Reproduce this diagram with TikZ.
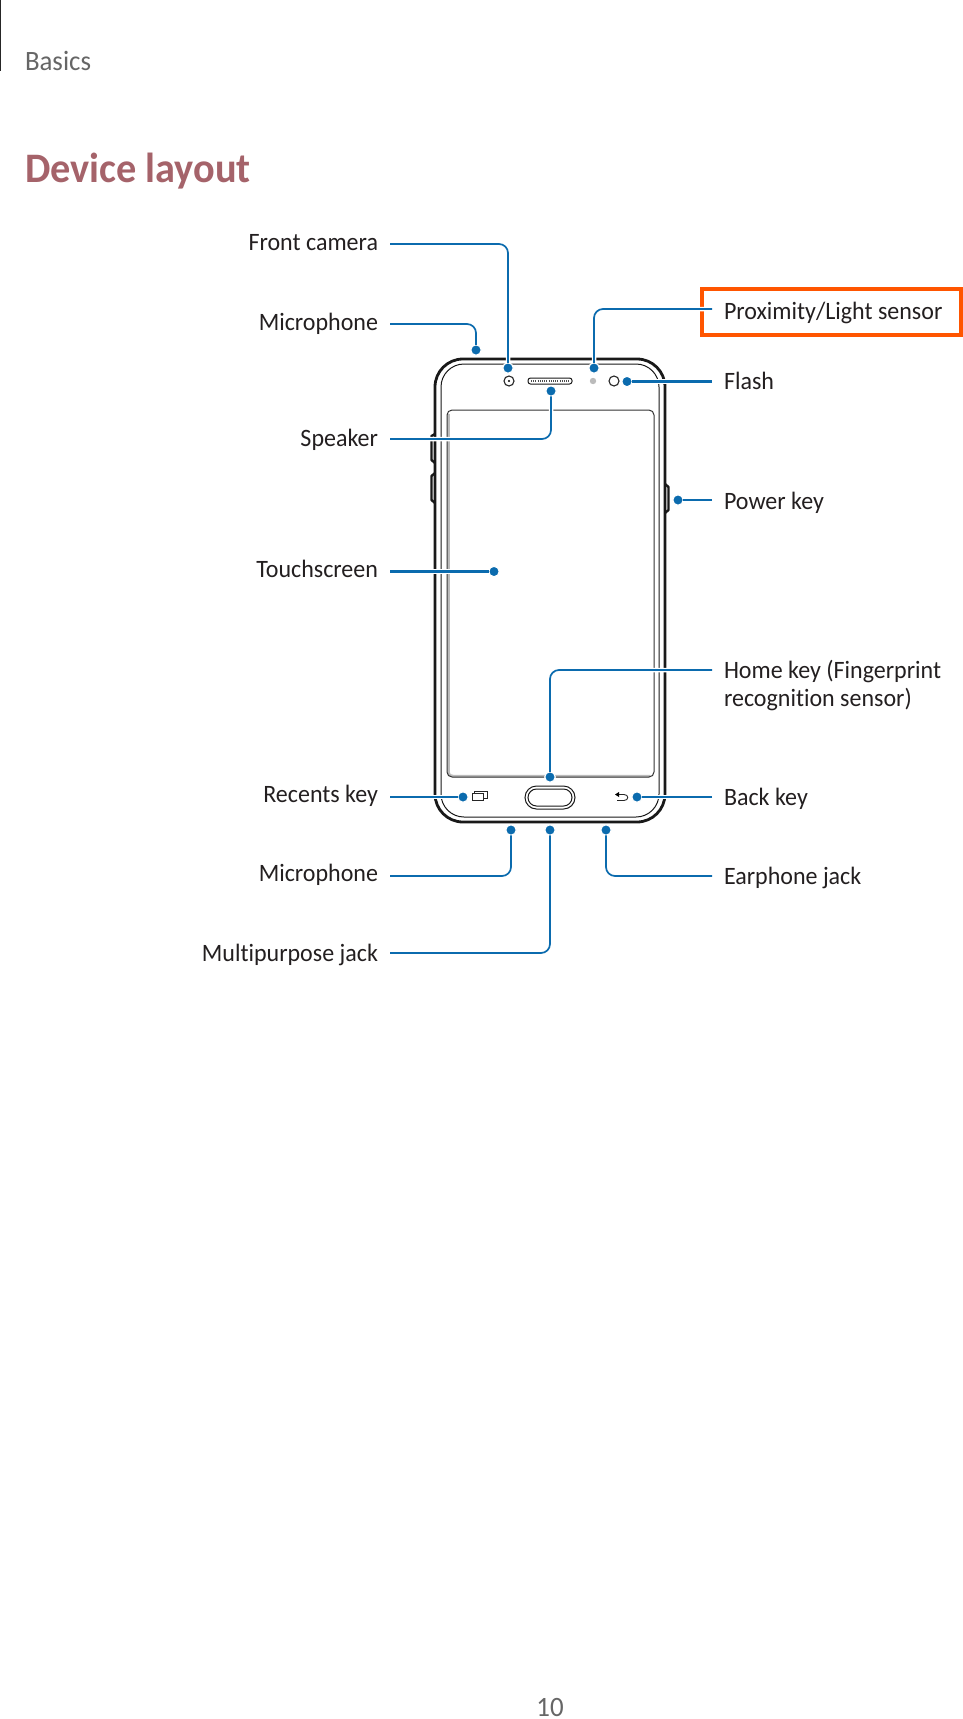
\documentclass[tikz,border=0pt]{standalone}
\usepackage{fontspec}
\setmainfont{Carlito}[FakeStretch=0.96,Ligatures=NoCommon]
\definecolor{leadblue}{HTML}{0B6BAE}
\definecolor{txt}{HTML}{231F20}
\definecolor{hdr}{HTML}{666666}
\definecolor{ttl}{HTML}{A5636A}
\definecolor{hl}{HTML}{FF5500}
\definecolor{greyband}{HTML}{BBBBBB}
\tikzset{
  lbl/.style={inner sep=0pt,outer sep=0pt,text=txt,font=\fontsize{25}{30}\selectfont},
  lleft/.style={lbl,anchor=base east},
  lright/.style={lbl,anchor=base west},
  pin/.style={circle,fill=leadblue,draw=white,line width=1.2pt,minimum size=10.5pt,inner sep=0pt,outer sep=0pt},
  lead/.style={draw=leadblue,line width=1.7pt,rounded corners=9pt,preaction={draw=white,line width=4.5pt}},
  heavylead/.style={lead,line width=2.5pt},
  bodyline/.style={draw=black!90,line width=2.8pt},
  fineline/.style={draw=black!90,line width=1pt},
  iconline/.style={draw=black!85,line width=0.9pt},
}
\begin{document}
\begin{tikzpicture}[x=1pt,y=-1pt]
\useasboundingbox (0,0) rectangle (963,1719);
% header
\draw[black!85,line width=1.4pt] (0.7,0) -- (0.7,71);
\node[lbl,anchor=base west,text=hdr,font=\fontsize{28}{34}\selectfont] (hd) at (25,70) {Basics};
\node[lbl,anchor=base west,text=ttl,font=\fontsize{42}{50}\selectfont\bfseries] (ti) at (25,182) {Device layout};
\node[lbl,anchor=base,text=hdr,font=\fontsize{28}{34}\selectfont] (pg) at (550,1716.5) {10};
% phone
\draw[bodyline,fill=white,rounded corners=28pt] (435,359) rectangle (665,822);
\draw[fineline,rounded corners=23pt] (441,364) rectangle (659,817);
\draw[draw=greyband,line width=2.5pt] (448.5,414) -- (448.5,772) .. controls (448.5,775) and (450,776) .. (453,776) -- (650,776);
\draw[fineline,draw=black!80,rounded corners=5pt] (447,410) rectangle (654,777);
\draw[bodyline,line width=2.4pt,line join=round] (435,434) -- (431.5,436) -- (431.5,460) -- (435,463);
\draw[bodyline,line width=2.4pt,line join=round] (435,473) -- (431.5,476) -- (431.5,500) -- (435,503);
\draw[bodyline,line width=2.4pt,line join=round] (665,484) -- (668.5,487) -- (668.5,510) -- (665,513);
% top sensors
\draw[iconline,line width=1.1pt] (509,381) circle (5);
\fill[black] (509,381) circle (1.2);
\draw[fineline,rounded corners=2.5pt] (528,378) rectangle (572,384);
\draw[black!70,line width=2pt,dash pattern=on 1pt off 1.2pt] (531,381) -- (570,381);
\fill[greyband] (593,381) circle (3.2);
\draw[iconline,line width=1.1pt] (614,381) circle (5);
% bottom keys
\draw[fineline,rounded corners=11.5pt] (525,786) rectangle (575,809);
\draw[fineline,rounded corners=8.5pt] (528,789) rectangle (572,806);
\draw[iconline] (472,793) rectangle (483,800);
\draw[iconline] (474,793) -- (474,791) -- (487,791) -- (487,798) -- (483,798);
\draw[iconline] (618,794.5) -- (624,794.5) .. controls (629,794.5) and (629,800.5) .. (624,800.5) -- (617,800.5);
\fill[black] (615,794.5) -- (619,792) -- (619,797) -- cycle;
% labels
\node[lleft] (tFront) at (378,250) {Front camera};
\node[lleft] (tMicA) at (378,330) {Microphone};
\node[lleft] (tSpk) at (378,446) {Speaker};
\node[lleft] (tTouch) at (378,577) {Touchscreen};
\node[lleft] (tRec) at (378,802) {Recents key};
\node[lleft] (tMicB) at (378,881) {Microphone};
\node[lleft] (tMulti) at (378,961) {Multipurpose jack};
\node[lright] (tProx) at (724,319) {Proximity/Light sensor};
\node[lright] (tFlash) at (724,389) {Flash};
\node[lright] (tPow) at (724,509) {Power key};
\node[lright,align=left,anchor=north west,font=\fontsize{25}{28.5}\selectfont] (tHome) at (724,660) {Home key (Fingerprint\\recognition sensor)};
\node[lright] (tBack) at (724,805) {Back key};
\node[lright] (tEar) at (724,884) {Earphone jack};
% highlight
\node[draw=hl,line width=4pt,inner sep=0pt,outer sep=0pt,minimum width=259pt,minimum height=46pt,anchor=north west] (box) at (702,289) {};
% pins
\node[pin] (pFront) at (508,368) {};
\node[pin] (pMicA) at (476,350) {};
\node[pin] (pProx) at (594,368) {};
\node[pin] (pFlash) at (627,381.5) {};
\node[pin] (pSpk) at (551,391) {};
\node[pin] (pPow) at (678,500) {};
\node[pin] (pTouch) at (494,571.5) {};
\node[pin] (pHome) at (550,777) {};
\node[pin] (pRec) at (463,797) {};
\node[pin] (pBack) at (637,797) {};
\node[pin] (pMicB) at (511,830) {};
\node[pin] (pMulti) at (550,830) {};
\node[pin] (pEar) at (606,830) {};
% free ends
\coordinate (eFront) at (390,244);
\coordinate (eMicA) at (390,324);
\coordinate (eSpk) at (390,439);
\coordinate (eTouch) at (390,571.5);
\coordinate (eRec) at (390,797);
\coordinate (eMicB) at (390,876);
\coordinate (eMulti) at (390,953);
\coordinate (eProx) at (712,309);
\coordinate (eFlash) at (712,381.5);
\coordinate (ePow) at (712,500);
\coordinate (eHome) at (712,670);
\coordinate (eBack) at (712,797);
\coordinate (eEar) at (712,876);
% leads
\draw[lead] (eFront) -| (pFront);
\draw[lead] (eMicA) -| (pMicA);
\draw[lead] (eSpk) -| (pSpk);
\draw[heavylead] (eTouch) -- (pTouch);
\draw[lead] (eRec) -- (pRec);
\draw[lead] (eMicB) -| (pMicB);
\draw[lead] (eMulti) -| (pMulti);
\draw[lead] (eProx) -| (pProx);
\draw[heavylead] (eFlash) -- (pFlash);
\draw[lead] (ePow) -- (pPow);
\draw[lead] (eHome) -| (pHome);
\draw[lead] (eBack) -- (pBack);
\draw[lead] (eEar) -| (pEar);
\end{tikzpicture}
\end{document}
